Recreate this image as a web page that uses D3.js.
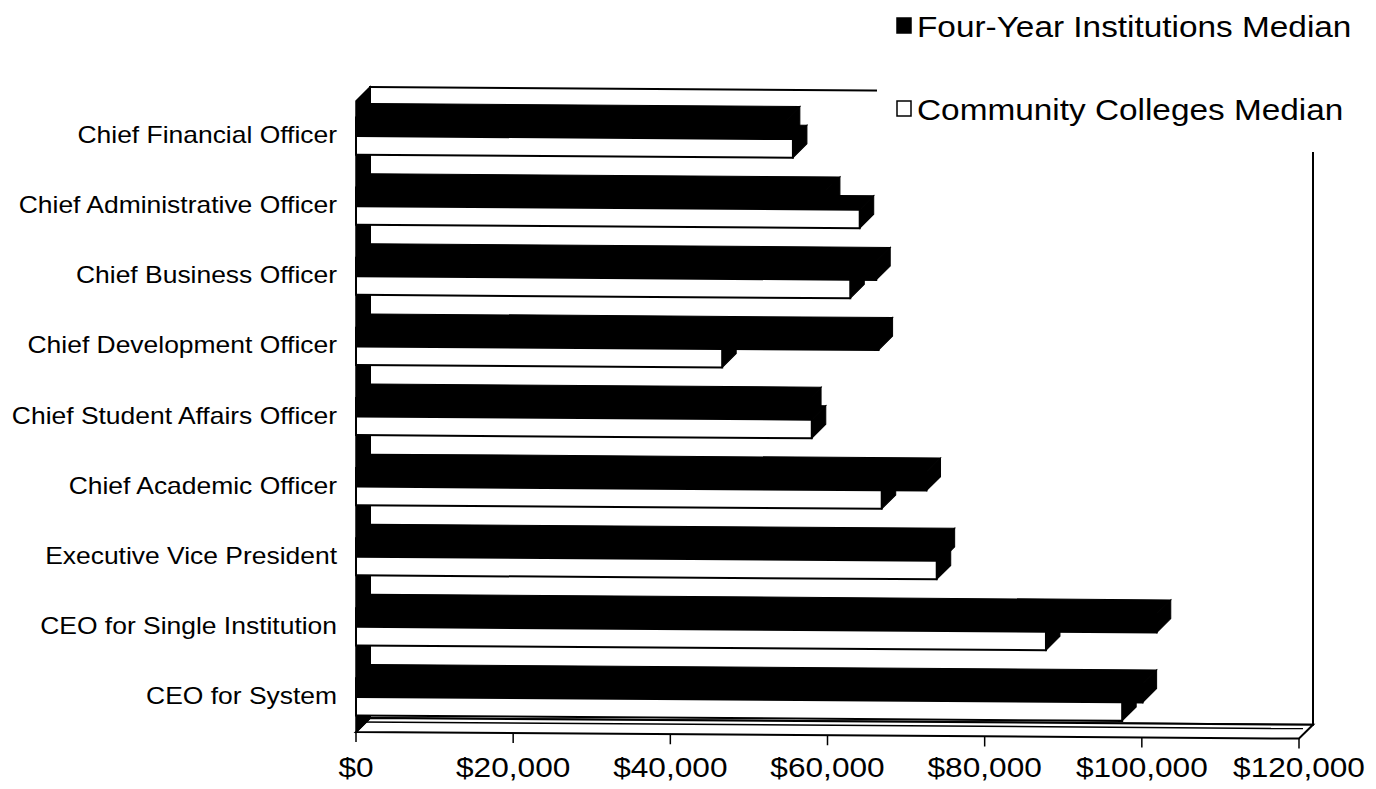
<!DOCTYPE html>
<html>
<head>
<meta charset="utf-8">
<script src="https://cdn.jsdelivr.net/npm/d3@7"></script>
<style>
  html, body { margin: 0; padding: 0; background: #fff; }
  svg { display: block; }
  text { font-family: "Liberation Sans", Arial, sans-serif; fill: #000; }
</style>
</head>
<body>
<svg id="chart" width="1376" height="789"></svg>
<script>
// Median salaries by position (US dollars)
const categories = [
  "Chief Financial Officer",
  "Chief Administrative Officer",
  "Chief Business Officer",
  "Chief Development Officer",
  "Chief Student Affairs Officer",
  "Chief Academic Officer",
  "Executive Vice President",
  "CEO for Single Institution",
  "CEO for System"
];
const fourYearMedian = [54700, 59800, 66200, 66500, 57400, 72600, 74400, 101900, 100100];
const communityCollegeMedian = [55600, 64100, 62900, 46600, 58000, 66900, 73900, 87800, 97500];
const seriesNames = ["Four-Year Institutions Median", "Community Colleges Median"];
const tickValues = [0, 20000, 40000, 60000, 80000, 100000, 120000];

const svg = d3.select("#chart");

// Plot box on the front plane, and the 3-D depth offset toward the back wall
const front = { left: 356, right: 1299, top: 101, bottom: 732 };
const depth = { dx: 14, dy: 14 };
const textStretch = 1.15;

const x = d3.scaleLinear().domain([0, 120000]).range([front.left, front.right]);
const y = d3.scaleBand().domain(categories)
  .range([front.top, front.bottom])
  .paddingInner(0.47).paddingOuter(0.235);
const ySub = d3.scaleBand().domain(seriesNames).range([0, y.bandwidth()]);

const rows = categories.map((c, i) => ({
  category: c,
  values: [
    { series: seriesNames[0], value: fourYearMedian[i] },
    { series: seriesNames[1], value: communityCollegeMedian[i] }
  ]
}));

const pts = a => a.map(p => p.join(",")).join(" ");

// Slight skew of the plotting area
const plot = svg.append("g")
  .attr("transform", `translate(${front.left},0) skewY(0.4) translate(${-front.left},0)`);

const bx0 = front.left + depth.dx, bx1 = front.right + depth.dx;
const by0 = front.top - depth.dy, by1 = front.bottom - depth.dy;

// Back wall
plot.append("rect")
  .attr("x", bx0).attr("y", by0)
  .attr("width", bx1 - bx0).attr("height", by1 - by0)
  .attr("fill", "#fff").attr("stroke", "#000").attr("stroke-width", 2);

// Floor
plot.append("polygon")
  .attr("points", pts([[front.left, front.bottom], [front.right, front.bottom],
                       [bx1, by1], [bx0, by1]]))
  .attr("fill", "#fff").attr("stroke", "#000").attr("stroke-width", 2);
plot.append("line")
  .attr("x1", front.left + 4).attr("x2", front.right + 4)
  .attr("y1", by1 + 4).attr("y2", by1 + 4)
  .attr("stroke", "#000").attr("stroke-width", 1.5);

// Side wall
plot.append("polygon")
  .attr("points", pts([[front.left, front.top], [bx0, by0], [bx0, by1], [front.left, front.bottom]]))
  .attr("fill", "#000").attr("stroke", "#000").attr("stroke-width", 1.5);

// Bars: front face, top face and end face of each box
const fills = { [seriesNames[0]]: "#000", [seriesNames[1]]: "#fff" };
const cat = plot.selectAll("g.cat").data(rows).join("g")
  .attr("class", "cat")
  .attr("transform", d => `translate(0,${y(d.category)})`);

const bar = cat.selectAll("g.bar").data(d => d.values).join("g").attr("class", "bar");

bar.append("polygon") // top face
  .attr("points", d => {
    const t = ySub(d.series), xe = x(d.value);
    return pts([[x(0), t], [xe, t], [xe + depth.dx, t - depth.dy], [x(0) + depth.dx, t - depth.dy]]);
  })
  .attr("fill", "#000").attr("stroke", "#000").attr("stroke-width", 1);

bar.append("polygon") // end face
  .attr("points", d => {
    const t = ySub(d.series), b = t + ySub.bandwidth(), xe = x(d.value);
    return pts([[xe, t], [xe, b], [xe + depth.dx, b - depth.dy], [xe + depth.dx, t - depth.dy]]);
  })
  .attr("fill", "#000").attr("stroke", "#000").attr("stroke-width", 1);

bar.append("rect") // front face
  .attr("x", x(0))
  .attr("y", d => ySub(d.series))
  .attr("width", d => x(d.value) - x(0))
  .attr("height", ySub.bandwidth())
  .attr("fill", d => fills[d.series])
  .attr("stroke", "#000").attr("stroke-width", 2);

// Tick marks along the front edge of the floor
plot.selectAll("line.tick").data(tickValues).join("line")
  .attr("class", "tick")
  .attr("x1", d => x(d)).attr("x2", d => x(d))
  .attr("y1", front.bottom).attr("y2", front.bottom + 10)
  .attr("stroke", "#000").attr("stroke-width", 1.5);

// Value axis labels
const fmt = d3.format("$,.0f");
svg.selectAll("text.xlab").data(tickValues).join("text")
  .attr("class", "xlab")
  .attr("transform", d => `translate(${x(d)},777) scale(${textStretch},1)`)
  .attr("text-anchor", "middle")
  .attr("font-size", 27.5)
  .text(d => fmt(d));

// Category labels
svg.selectAll("text.ylab").data(categories).join("text")
  .attr("class", "ylab")
  .attr("transform", d => `translate(337,${y(d) + y.bandwidth() / 2 + 7}) scale(${textStretch},1)`)
  .attr("text-anchor", "end")
  .attr("font-size", 23)
  .text(d => d);

// Legend
const legend = svg.append("g");
legend.append("rect")
  .attr("x", 877).attr("y", 0).attr("width", 499).attr("height", 152)
  .attr("fill", "#fff");
const legendY = [37, 120];
const item = legend.selectAll("g.item").data(seriesNames).join("g")
  .attr("class", "item")
  .attr("transform", (d, i) => `translate(896,${legendY[i]})`);
item.append("rect")
  .attr("x", 1).attr("y", -19).attr("width", 14).attr("height", 15)
  .attr("fill", d => fills[d]).attr("stroke", "#000").attr("stroke-width", 1.5);
item.append("text")
  .attr("transform", `translate(21,0) scale(${textStretch},1)`)
  .attr("font-size", 29)
  .text(d => d);
</script>
</body>
</html>
